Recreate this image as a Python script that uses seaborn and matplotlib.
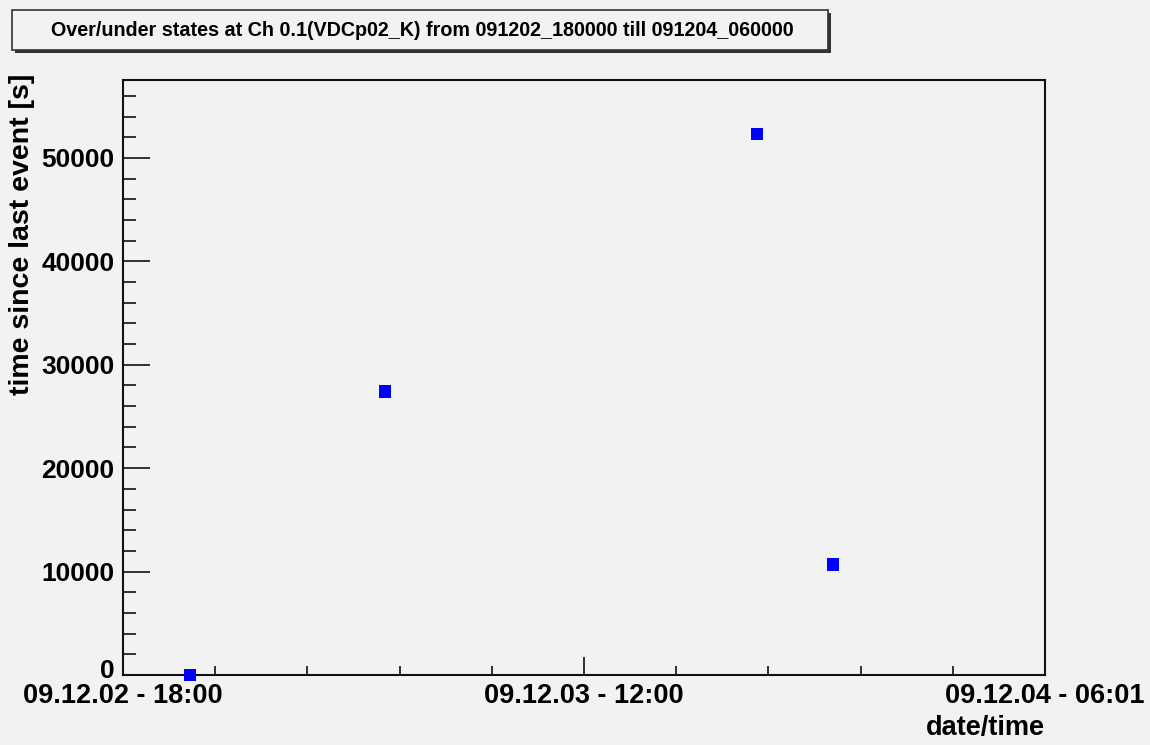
import matplotlib

matplotlib.use("Agg")

import matplotlib.pyplot as plt
import matplotlib.transforms as mtransforms
import pandas as pd
import seaborn as sns
from matplotlib.patches import Rectangle

# values
event_times = ["2009-12-02 20:37", "2009-12-03 04:14", "2009-12-03 18:45", "2009-12-03 21:43"]
time_since_last = [0, 27400, 52300, 10700]
x_range = ["2009-12-02 18:00", "2009-12-04 06:00"]
x_tick_labels = ["09.12.02 - 18:00", "09.12.03 - 12:00", "09.12.04 - 06:01"]
y_max = 57530
title = "Over/under states at Ch 0.1(VDCp02_K) from 091202_180000 till 091204_060000"

sns.set_theme(style="ticks")
plt.rcParams["font.family"] = ["Liberation Sans", "DejaVu Sans"]
plt.rcParams["font.weight"] = "bold"
plt.rcParams["text.color"] = "black"
plt.rcParams["axes.labelcolor"] = "black"
plt.rcParams["xtick.color"] = "black"
plt.rcParams["ytick.color"] = "black"

bg = "#f2f2f2"
df = pd.DataFrame({"ts": pd.to_datetime(event_times), "dt": time_since_last})

fig = plt.figure(figsize=(11.5, 7.45), dpi=100, facecolor=bg)
ax = fig.add_axes([123 / 1150, 1 - 675 / 745, 922 / 1150, 595 / 745])
ax.set_facecolor(bg)

sns.scatterplot(data=df, x="ts", y="dt", ax=ax, marker="s", color="#0000ff",
                s=80, edgecolor="none", linewidth=0, clip_on=False, zorder=5)

x0, x1 = pd.to_datetime(x_range)
ax.set_xlim(x0, x1)
ax.set_ylim(0, y_max)

major_x = pd.date_range(x0, x1, periods=3)
minor_x = pd.date_range(x0, x1, periods=11)
ax.set_xticks(major_x)
ax.set_xticklabels(x_tick_labels)
ax.set_xticks(minor_x, minor=True)
ax.set_yticks(range(0, 60000, 10000))
ax.set_yticks(range(0, 58000, 2000), minor=True)
ax.set_yticklabels([str(v) for v in range(0, 60000, 10000)])

ax.tick_params(axis="x", which="major", direction="in", length=13, width=1.2,
               pad=6, labelsize=19.5, color="#111111")
ax.tick_params(axis="x", which="minor", direction="in", length=6.5, width=1.2, color="#111111")
ax.tick_params(axis="y", which="major", direction="in", length=19.5, width=1.2,
               pad=6, labelsize=19, color="#111111")
ax.tick_params(axis="y", which="minor", direction="in", length=9.7, width=1.2, color="#111111")
for lbl in ax.get_xticklabels() + ax.get_yticklabels():
    lbl.set_fontweight("bold")
    lbl.set_color("black")

# the "0" sits a touch higher in the reference
zero_lbl = ax.get_yticklabels()[0]
zero_lbl.set_transform(zero_lbl.get_transform()
                       + mtransforms.ScaledTranslation(0, 6 / 100, fig.dpi_scale_trans))

for side in ["left", "bottom", "top", "right"]:
    ax.spines[side].set_visible(True)
    ax.spines[side].set_color("#111111")
    ax.spines[side].set_linewidth(1.5)

ax.set_xlabel("date/time", fontsize=19.5, fontweight="bold", loc="right", labelpad=4)
ax.set_ylabel("time since last event [s]", fontsize=20.5, fontweight="bold", loc="top")
ax.yaxis.set_label_coords(-0.095, 1.01)
ax.grid(False)

# title pave with shadow
fig.patches.append(Rectangle((15 / 1150, 1 - 53 / 745), 816 / 1150, 40 / 745,
                             transform=fig.transFigure, facecolor="#333333",
                             edgecolor="none", zorder=1))
fig.patches.append(Rectangle((12 / 1150, 1 - 50 / 745), 816 / 1150, 40 / 745,
                             transform=fig.transFigure, facecolor=bg,
                             edgecolor="#333333", linewidth=1.2, zorder=2))
fig.text(422 / 1150, 1 - 30 / 745, title, ha="center", va="center",
         fontsize=14.2, fontweight="bold", zorder=3)

fig.savefig("out.png", dpi=100, facecolor=bg)
plt.close(fig)
